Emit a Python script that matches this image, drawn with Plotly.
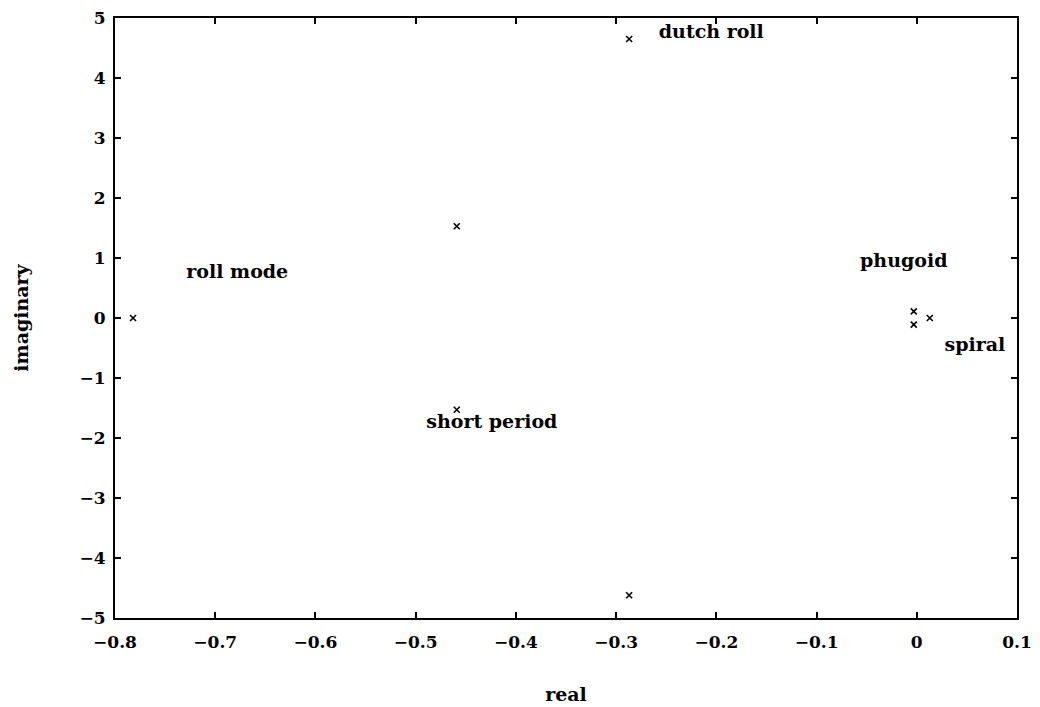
import plotly.graph_objects as go

# eigenvalues (real, imaginary)
pole_re = [-0.782, -0.459, -0.459, -0.287, -0.287, -0.003, -0.003, 0.013]
pole_im = [0.0, 1.53, -1.53, 4.65, -4.62, 0.11, -0.11, 0.0]

label_text = ["dutch roll", "roll mode", "short period", "phugoid", "spiral"]
label_x = [-0.205, -0.678, -0.424, -0.013, 0.058]
label_y = [4.75, 0.75, -1.75, 0.93, -0.47]

x_ticks = [-0.8, -0.7, -0.6, -0.5, -0.4, -0.3, -0.2, -0.1, 0, 0.1]
y_ticks = [-5, -4, -3, -2, -1, 0, 1, 2, 3, 4, 5]

font_family = "DejaVu Serif"

fig = go.Figure()
fig.add_trace(go.Scatter(
    x=pole_re, y=pole_im, mode="markers",
    marker=dict(symbol="x-thin", size=6, line=dict(width=1.6, color="black"), color="black"),
    showlegend=False,
))
fig.add_trace(go.Scatter(
    x=label_x, y=label_y, mode="text", text=label_text,
    textfont=dict(family=font_family, size=19, color="black", weight="bold"),
    showlegend=False,
))

axis_common = dict(
    showgrid=False, zeroline=False, showline=True, linecolor="black", linewidth=2,
    mirror="ticks", ticks="inside", ticklen=6, tickwidth=1.5, tickcolor="black",
    automargin=False,
    tickfont=dict(family=font_family, size=17, color="black", weight="bold"),
)

fig.update_layout(
    width=1040, height=707,
    margin=dict(l=115, r=23, t=18, b=89),
    plot_bgcolor="white", paper_bgcolor="white",
    xaxis=dict(range=[-0.8, 0.1], tickvals=x_ticks, tickformat=".1~f", ticklabelstandoff=8,
               title=dict(text="<b>real</b>", font=dict(family=font_family, size=19, color="black"), standoff=36),
               **axis_common),
    yaxis=dict(range=[-5, 5], tickvals=y_ticks, ticklabelstandoff=4,
               title=dict(text="<b>imaginary</b>", font=dict(family=font_family, size=19, color="black"), standoff=46),
               **axis_common),
    font=dict(family=font_family, color="black"),
)

fig.write_html("out.html")
